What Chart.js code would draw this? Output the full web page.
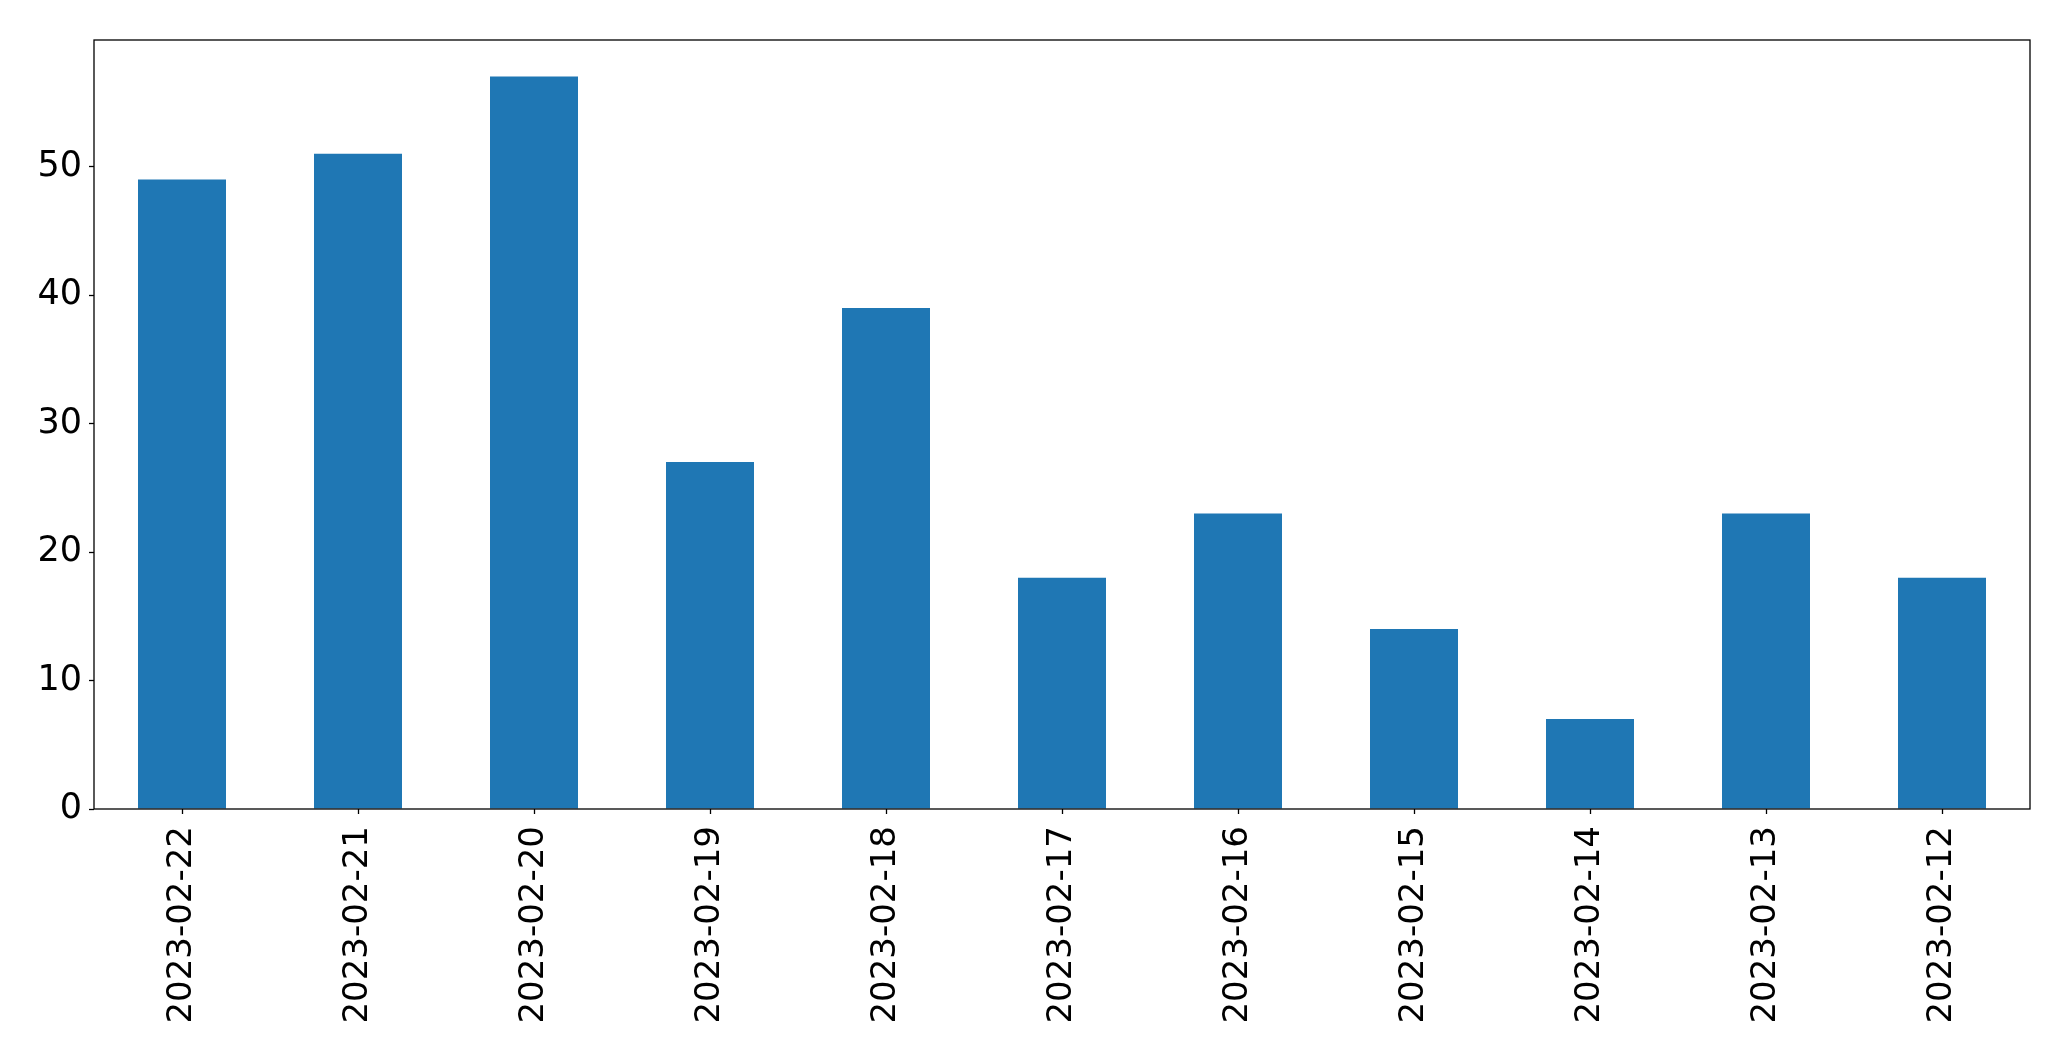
<!DOCTYPE html>
<html>
<head>
<meta charset="utf-8">
<title>Daily counts</title>
<script src="https://cdn.jsdelivr.net/npm/chart.js@4.4.1/dist/chart.umd.min.js"></script>
<style>
  html, body { margin: 0; padding: 0; background: #fff; }
  #wrap { width: 2071px; height: 1061px; }
</style>
</head>
<body>
<div id="wrap"><canvas id="chartDays" width="2071" height="1061"></canvas></div>
<script>
  // data
  var dates = [
    "2023-02-22", "2023-02-21", "2023-02-20", "2023-02-19",
    "2023-02-18", "2023-02-17", "2023-02-16", "2023-02-15",
    "2023-02-14", "2023-02-13", "2023-02-12"
  ];
  var counts = [49, 51, 57, 27, 39, 18, 23, 14, 7, 23, 18];
  var yTicks = [0, 10, 20, 30, 40, 50];

  (function () {
    "use strict";

    var fontFamily = "'DejaVu Sans', sans-serif";

    // box around the plot area, like a matplotlib axes frame
    var frame = {
      id: "frame",
      afterDraw: function (chart) {
        var a = chart.chartArea;
        var ctx = chart.ctx;
        ctx.save();
        ctx.strokeStyle = "#000";
        ctx.lineWidth = 1.3;
        ctx.strokeRect(a.left, a.top, a.right - a.left, a.bottom - a.top);
        ctx.restore();
      },
    };

    new Chart(document.getElementById("chartDays"), {
      type: "bar",
      data: {
        labels: dates,
        datasets: [
          {
            data: counts,
            backgroundColor: "#1f77b4",
            borderWidth: 0,
            categoryPercentage: 1,
            barPercentage: 0.5,
          },
        ],
      },
      options: {
        responsive: false,
        animation: false,
        devicePixelRatio: 1,
        layout: { padding: { top: 40, right: 41, left: 0, bottom: 0 } },
        plugins: {
          legend: { display: false },
          tooltip: { enabled: false },
        },
        scales: {
          x: {
            offset: true,
            grid: {
              drawOnChartArea: false,
              offset: false,
              color: "#000",
              tickLength: 5,
              tickWidth: 1.3,
            },
            border: { display: false },
            ticks: {
              color: "#000",
              font: { family: fontFamily, size: 34 },
              minRotation: 90,
              maxRotation: 90,
              padding: 12,
              autoSkip: false,
            },
            afterFit: function (s) { s.height = 252; },
          },
          y: {
            min: 0,
            max: 59.85,
            afterBuildTicks: function (s) {
              s.ticks = yTicks.map(function (v) { return { value: v }; });
            },
            grid: {
              drawOnChartArea: false,
              color: "#000",
              tickLength: 5,
              tickWidth: 1.3,
            },
            border: { display: false },
            ticks: {
              color: "#000",
              font: { family: fontFamily, size: 35 },
              padding: 7,
            },
            afterFit: function (s) { s.width = 94; },
          },
        },
      },
      plugins: [frame],
    });
  })();
</script>
</body>
</html>
